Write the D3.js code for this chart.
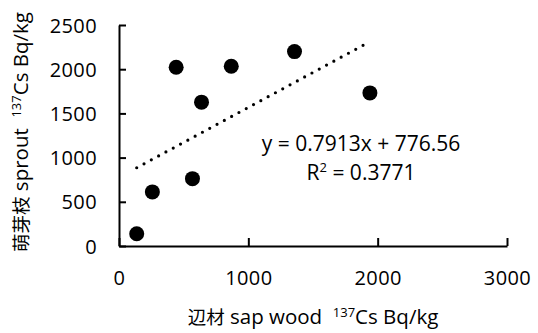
<!DOCTYPE html>
<html>
<head>
<meta charset="utf-8">
<script src="https://cdn.jsdelivr.net/npm/d3@7"></script>
<style>
  body { margin: 0; background: #fff; }
  text { font-family: "Open Sans", "Noto Sans CJK JP", sans-serif; fill: #000; }
</style>
</head>
<body>
<div id="chart"></div>
<script>
// sap wood vs sprout 137Cs (Bq/kg)
const sapWood = [137, 258, 442, 568, 638, 868, 1357, 1940];
const sprout = [138, 612, 2022, 762, 1627, 2033, 2199, 1732];
const xTicks = [0, 1000, 2000, 3000];
const yTicks = [0, 500, 1000, 1500, 2000, 2500];
const slope = 0.7913;
const intercept = 776.56;
const eqLabel = 'y = 0.7913x + 776.56';
const r2Label = '0.3771';

const width = 538, height = 333;

const svg = d3.select('#chart')
  .append('svg')
  .attr('width', width)
  .attr('height', height);

const x = d3.scaleLinear().domain([0, 3000]).range([119, 507]);
const y = d3.scaleLinear().domain([0, 2500]).range([246, 25]);
const fmt = d3.format('d');

// axes - ticks point inside the plot
const xAxis = svg.append('g')
  .attr('transform', `translate(0,${y(0)})`)
  .call(d3.axisBottom(x).tickValues(xTicks).tickFormat(fmt)
    .tickSizeInner(-8).tickSizeOuter(0).tickPadding(0));
xAxis.selectAll('text')
  .attr('y', 39)
  .attr('dy', null)
  .style('font-size', '20px')
  .style('letter-spacing', '0.4px');

const yAxis = svg.append('g')
  .attr('transform', `translate(${x(0)},0)`)
  .call(d3.axisLeft(y).tickValues(yTicks).tickFormat(fmt)
    .tickSizeInner(-7).tickSizeOuter(0).tickPadding(0));
yAxis.selectAll('text')
  .attr('x', -22)
  .attr('dy', '0.35em')
  .style('font-size', '20px')
  .style('letter-spacing', '0.4px');

svg.selectAll('.domain, .tick line')
  .attr('stroke', '#000')
  .attr('stroke-width', 2);

// linear trend line
const x0 = d3.min(sapWood), x1 = d3.max(sapWood);
svg.append('line')
  .attr('x1', x(x0)).attr('y1', y(slope * x0 + intercept))
  .attr('x2', x(x1)).attr('y2', y(slope * x1 + intercept))
  .attr('stroke', '#000')
  .attr('stroke-width', 3.2)
  .attr('stroke-linecap', 'round')
  .attr('stroke-dasharray', '0 8.3');

// points
svg.append('g')
  .selectAll('circle')
  .data(sapWood)
  .join('circle')
  .attr('cx', d => x(d))
  .attr('cy', (d, i) => y(sprout[i]))
  .attr('r', 7.5)
  .attr('fill', '#000');

// equation labels
svg.append('text')
  .attr('x', 361).attr('y', 151)
  .attr('text-anchor', 'middle')
  .style('font-size', '21px')
  .text(eqLabel);

const r2 = svg.append('text')
  .attr('x', 361).attr('y', 180)
  .attr('text-anchor', 'middle')
  .style('font-size', '21px');
r2.append('tspan').text('R');
r2.append('tspan').attr('dy', -8).style('font-size', '13px').text('2');
r2.append('tspan').attr('dy', 8).text(' = ' + r2Label);

// axis titles
function title(sel, cjk, latin) {
  sel.append('tspan').style('font-family', '"Noto Sans CJK JP"').style('font-size', '18.5px').text(cjk);
  sel.append('tspan').text(' ' + latin + '\u00a0 ');
  sel.append('tspan').attr('dy', -7).style('font-size', '13px').text('137');
  sel.append('tspan').attr('dy', 7).text('Cs Bq/kg');
}

const xTitle = svg.append('text')
  .attr('x', 313).attr('y', 324)
  .attr('text-anchor', 'middle')
  .style('font-size', '20.5px');
title(xTitle, '辺材', 'sap wood');

const yTitle = svg.append('text')
  .attr('transform', 'translate(28,132) rotate(-90)')
  .attr('text-anchor', 'middle')
  .style('font-size', '20.5px');
title(yTitle, '萌芽枝', 'sprout');
</script>
</body>
</html>
